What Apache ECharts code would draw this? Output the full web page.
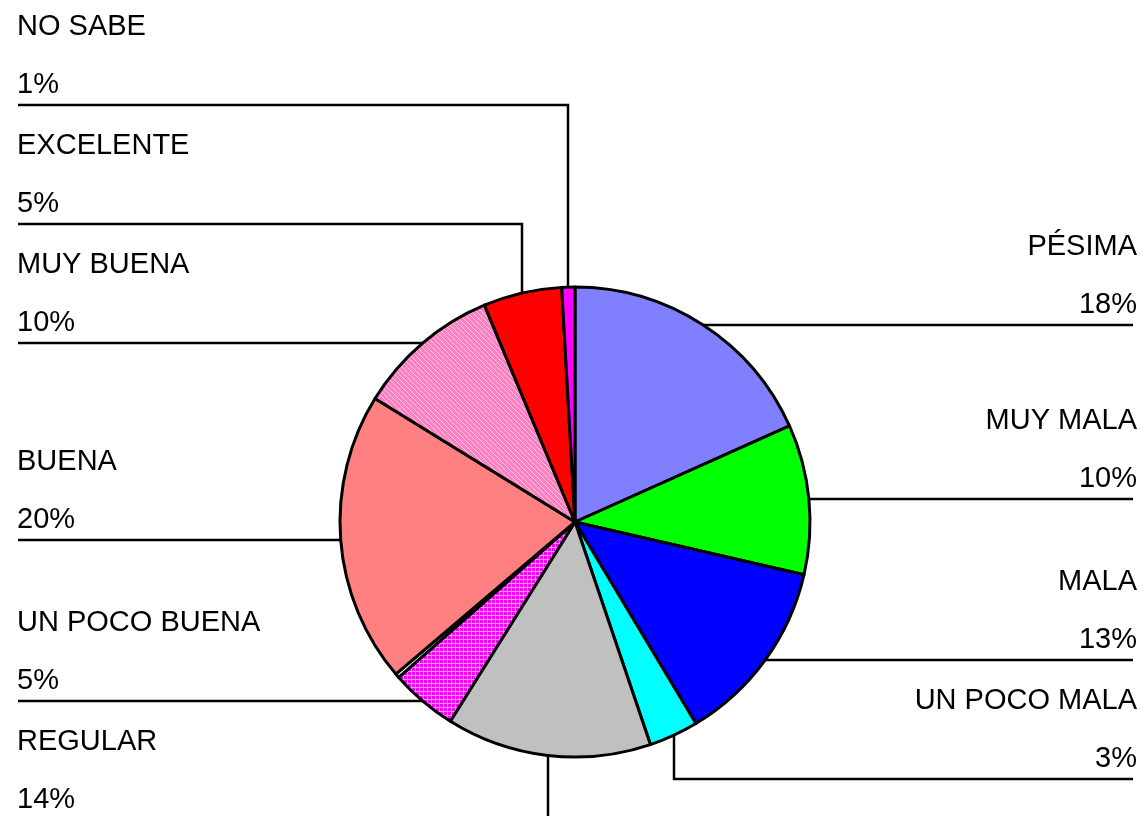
<!DOCTYPE html>
<html>
<head>
<meta charset="utf-8">
<script src="https://cdn.jsdelivr.net/npm/echarts@6/dist/echarts.min.js"></script>
<style>
  html, body { margin: 0; padding: 0; background: #fff; }
  #chart { width: 1146px; height: 816px; }
</style>
</head>
<body>
<div id="chart"></div>
<script>
// slices clockwise from 12 o'clock (the unnamed one is a hairline slice with no label)
var categories = ["PÉSIMA", "MUY MALA", "MALA", "UN POCO MALA", "REGULAR", "UN POCO BUENA", "", "BUENA", "MUY BUENA", "EXCELENTE", "NO SABE"];
var values = [18.3, 10.3, 12.8, 3.4, 14.1, 4.6, 0.3, 20.0, 9.9, 5.4, 0.9];

var cx = 575, cy = 522, r = 235;
var labelGap = 119; // vertical room one two-line label needs

function makePattern(size, draw) {
  var c = document.createElement("canvas");
  c.width = size;
  c.height = size;
  draw(c.getContext("2d"));
  return { image: c, repeat: "repeat" };
}

// magenta with a light grid
var checkPink = makePattern(4, function (ctx) {
  ctx.fillStyle = "#FF90FF";
  ctx.fillRect(0, 0, 4, 4);
  ctx.fillStyle = "#FF00FF";
  ctx.fillRect(0, 0, 3, 3);
});
// pink with light diagonal lines
var stripePink = makePattern(5, function (ctx) {
  ctx.fillStyle = "#FF80C0";
  ctx.fillRect(0, 0, 5, 5);
  ctx.fillStyle = "#FFC8E4";
  for (var k = 0; k < 5; k++) ctx.fillRect(k, k, 1, 1);
});

var sliceColors = ["#8080FF", "#00FF00", "#0000FF", "#00FFFF", "#C0C0C0", checkPink, "#FFFFFF", "#FF8080", stripePink, "#FF0000", "#FF00FF"];

// where each label's underline sits: labels near the equator keep their slice height,
// the others get pushed towards the top / bottom
function computeLabelLines() {
  var total = values.reduce(function (s, v) { return s + v; }, 0);
  var acc = 0;
  var sides = { left: [], right: [] };
  values.forEach(function (v, i) {
    var mid = (acc + v / 2) / total * 2 * Math.PI;
    acc += v;
    if (!categories[i]) return;
    var side = mid < Math.PI ? "right" : "left";
    sides[side].push({ i: i, side: side, ay: cy - r * Math.cos(mid) });
  });
  var out = {};
  ["left", "right"].forEach(function (s) {
    var list = sides[s].sort(function (a, b) { return a.ay - b.ay; });
    var p = 0;
    list.forEach(function (it, k) {
      if (Math.abs(it.ay - cy) < Math.abs(list[p].ay - cy)) p = k;
    });
    list[p].lineY = list[p].ay;
    for (var k = p - 1; k >= 0; k--) list[k].lineY = Math.min(list[k].ay, list[k + 1].lineY - labelGap);
    for (var k = p + 1; k < list.length; k++) list[k].lineY = Math.max(list[k].ay, list[k - 1].lineY + labelGap);
    list.forEach(function (it) { out[it.i] = it; });
  });
  return out;
}
var labelLines = computeLabelLines();

var chart = echarts.init(document.getElementById("chart"));
chart.setOption({
  animation: false,
  series: [
    {
      type: "pie",
      center: [cx, cy],
      radius: r,
      startAngle: 90,
      clockwise: true,
      avoidLabelOverlap: false,
      emphasis: { disabled: true },
      itemStyle: {
        borderColor: "#000",
        borderWidth: 3,
      },
      label: {
        show: true,
        position: "outside",
        fontFamily: "Liberation Sans, Arial, sans-serif",
        fontSize: 29,
        color: "#000",
        lineHeight: 58,
        formatter: function (params) {
          return params.name + "\n" + Math.round(params.percent) + "%";
        },
      },
      labelLine: {
        show: true,
        length: 0,
        length2: 0,
        lineStyle: { color: "#000", width: 2.5 },
      },
      labelLayout: function (params) {
        var pos = labelLines[params.dataIndex];
        if (!pos || !params.labelLinePoints) return {};
        var a = params.labelLinePoints[0];
        var y = Math.round(pos.lineY);
        var ax = Math.round(a[0]);
        if (pos.side === "left") {
          return {
            x: 17,
            y: y - 49,
            align: "left",
            verticalAlign: "middle",
            labelLinePoints: [[18, y], [ax, y], [ax, a[1]]],
          };
        }
        return {
          x: 1137,
          y: y - 49,
          align: "right",
          verticalAlign: "middle",
          labelLinePoints: [[1133, y], [ax, y], [ax, a[1]]],
        };
      },
      data: categories.map(function (name, i) {
        var item = {
          name: name,
          value: values[i],
          itemStyle: { color: sliceColors[i] },
        };
        if (!name) {
          item.label = { show: false };
          item.labelLine = { show: false };
        }
        return item;
      }),
    },
  ],
});
</script>
</body>
</html>
